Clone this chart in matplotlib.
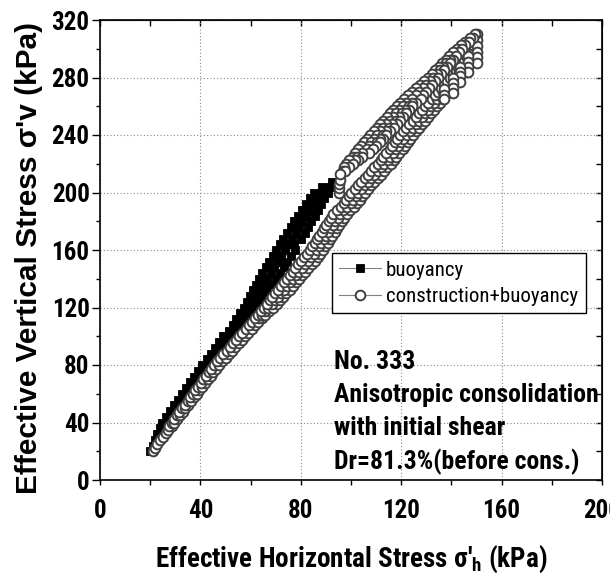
import matplotlib
matplotlib.use('Agg')
import matplotlib.pyplot as plt
from matplotlib.ticker import MultipleLocator

# ---------------- data ----------------
# buoyancy: rows of points across the black band (y, list of x)
buoy_row_y = [20, 24, 28, 32, 36, 40, 44, 48, 52, 56, 60, 64, 68, 72, 76, 80,
              84, 88, 92, 96, 100, 104, 108, 112, 116, 120, 124, 128, 132, 136,
              140, 144, 148, 152, 156, 160, 164, 168, 172, 176, 180, 184, 188,
              192, 196, 200, 204, 207]
buoy_row_x = [[20.0], [21.1], [21.8, 22.6], [22.9, 23.7], [23.8, 25.0],
              [24.8, 26.2], [26.4, 27.9], [28.0, 29.5], [29.6, 31.2],
              [31.2, 32.8], [32.8, 34.5], [34.4, 36.1], [36.0, 37.7],
              [37.6, 39.4], [39.2, 41.1], [40.8, 43.2], [42.5, 45.3],
              [44.1, 45.8, 47.4], [45.8, 47.6, 49.5], [47.5, 49.4, 51.6],
              [49.1, 51.3, 53.7], [51.3, 53.5, 55.7], [52.8, 55.0, 57.5],
              [54.3, 56.7, 59.2], [55.8, 58.3, 61.0], [57.3, 60.0, 62.7],
              [58.5, 61.3, 64.2], [59.7, 62.7, 65.7], [60.9, 64.0, 67.2],
              [62.1, 65.3, 68.7], [63.3, 66.5, 70.2], [64.7, 68.0, 71.7],
              [66.1, 69.4, 73.2], [67.5, 70.9, 74.7], [68.9, 72.3, 76.2],
              [70.3, 73.7, 77.7], [71.7, 74.8, 77.2], [73.1, 76.5, 80.2],
              [74.5, 77.9, 81.7], [75.9, 79.2, 82.9], [77.3, 80.6, 84.2],
              [78.9, 82.2, 85.5], [80.5, 83.5, 86.8], [82.1, 85.0, 88.1],
              [83.7, 86.5, 89.4], [85.3, 88.2, 90.7], [88.5, 91.5], [92.3]]

# construction+buoyancy: loading branch (lower band), rows every 2.5 kPa
cb_low_y = [20, 22.5, 25, 27.5, 30, 32.5, 35, 37.5, 40, 42.5, 45, 47.5, 50,
            52.5, 55, 57.5, 60, 62.5, 65, 67.5, 70, 72.5, 75, 77.5, 80, 82.5,
            85, 87.5, 90, 92.5, 95, 97.5, 100, 102.5, 105, 107.5, 110, 112.5,
            115, 117.5, 120, 122.5, 125, 127.5, 130, 132.5, 135, 137.5, 140,
            142.5, 145, 147.5, 150, 152.5, 155, 157.5, 160, 162.5, 165, 167.5,
            170, 172.5, 175, 177.5, 180, 182.5, 185, 187.5, 190, 192.5, 195,
            197.5, 200, 202.5, 205, 207.5, 210, 212.5, 215, 217.5, 220, 222.5,
            225, 227.5, 230, 232.5, 235, 237.5, 240, 242.5, 245, 247.5, 250,
            252.5, 255, 257.5, 260, 262.5, 265, 267.5, 270, 272.5, 275, 277.5,
            280, 282.5, 285, 287.5, 290, 292.5, 295, 297.5, 300, 302.5, 305,
            307.5, 310]
cb_low_x = [[21.0], [21.8], [22.6], [23.8], [25.1], [26.1], [27.1],
            [27.6, 28.5], [28.5, 29.5], [29.5, 30.6], [30.6, 31.7],
            [31.6, 32.9], [32.7, 34.0], [33.8, 35.1], [34.9, 36.2],
            [35.9, 37.4], [37.0, 38.5], [38.0, 39.6], [39.1, 40.7],
            [40.1, 41.9], [41.2, 43.0], [42.3, 44.1], [43.4, 45.2],
            [44.4, 46.4], [45.5, 47.5], [46.7, 48.8], [48.0, 50.0],
            [49.2, 51.3], [50.5, 52.6], [51.7, 53.9], [53.0, 55.2],
            [54.2, 56.5], [55.5, 57.8], [56.7, 59.1], [58.0, 60.4],
            [59.3, 61.7], [60.6, 63.0], [61.7, 63.2, 64.5], [62.9, 64.4, 65.9],
            [64.1, 65.8, 67.4], [65.3, 67.1, 68.9], [66.4, 68.5, 70.4],
            [67.6, 69.8, 71.9], [68.7, 71.0, 73.1], [69.9, 72.1, 74.3],
            [71.0, 73.3, 75.6], [72.2, 74.5, 76.8], [73.3, 75.7, 78.0],
            [74.5, 76.9, 79.3], [75.6, 78.0, 80.5], [76.7, 79.2, 81.8],
            [77.8, 80.4, 83.0], [79.0, 81.6, 84.3], [80.1, 82.8, 85.5],
            [81.3, 84.0, 86.8], [82.4, 85.1, 87.8], [83.6, 86.3, 88.9],
            [84.5, 87.2, 89.8], [85.5, 88.2, 90.8], [86.4, 89.1, 91.7],
            [87.4, 90.0, 92.6], [88.3, 91.0, 93.5], [89.2, 91.9, 94.5],
            [90.1, 92.8, 95.4], [91.1, 93.8, 96.4], [92.0, 94.7, 97.3],
            [93.0, 95.6, 98.3], [94.4, 97.0, 99.7], [95.9, 98.5, 101.1],
            [97.3, 99.9, 102.5], [98.2, 100.9, 103.5], [99.1, 101.8, 104.4],
            [100.1, 102.8, 105.4], [101.4, 104.1, 106.7], [102.7, 105.4, 108.0],
            [104.0, 106.7, 109.3], [105.4, 108.0, 110.6], [106.7, 109.3, 111.9],
            [108.0, 110.6, 113.2], [109.3, 111.9, 114.5], [110.6, 113.3, 115.8],
            [111.9, 114.6, 117.1], [112.7, 115.4, 117.9], [114.0, 116.7, 119.2],
            [115.4, 118.0, 120.6], [116.2, 118.8, 121.4], [117.5, 120.1, 122.7],
            [118.3, 120.9, 123.5], [119.6, 122.3, 124.8], [120.8, 123.5, 126.0],
            [122.1, 124.7, 127.1], [123.3, 125.9, 128.3], [124.6, 127.1, 129.5],
            [125.8, 128.3, 130.6], [127.1, 129.5, 131.8], [128.3, 130.7, 132.9],
            [129.6, 132.0, 134.1], [130.8, 133.2, 135.3], [132.1, 134.4, 136.5],
            [133.3, 135.4, 137.4], [134.6, 136.5, 138.4], [135.8, 137.7, 139.6],
            [137.1, 139.0, 140.8], [138.3, 140.2, 141.9], [139.6, 141.5, 143.0],
            [140.6, 142.3, 143.9], [141.7, 143.2, 144.7], [142.8, 144.1, 145.4],
            [143.9, 146.1], [144.9, 146.8], [146.0, 147.5], [147.0, 148.2],
            [148.0, 149.0], [148.7, 149.4], [149.5], [149.8], [150.0]]

# small unloading drops at the top of the loading branch
cb_drop_x = [150.2, 150.2, 150.2, 150.2, 150.2, 146.8, 146.8, 146.8, 146.8,
             143.6, 143.6, 143.6, 143.6, 140.6, 140.6, 140.6, 140.6, 137.2,
             137.2, 137.2]
cb_drop_y = [306, 302, 298, 294, 290, 295, 291, 287, 284, 287, 284, 281, 277,
             280, 276, 273, 269, 272, 268, 265]

# return branch (upper band), from the top downwards
cb_up_y = [310, 307.5, 305, 302.5, 300, 297.5, 295, 292.5, 290, 287.5, 285,
           282.5, 280, 277.5, 275, 272.5, 270, 267.5, 265, 262.5, 260, 257.5,
           255, 252.5, 250, 247.5, 245, 242.5, 240, 237.5, 235, 232.5, 230,
           227.5, 225, 222.5, 220, 217.5, 215]
cb_up_x = [[149.5], [147.6, 148.8], [145.6, 147.0], [143.9, 145.6],
           [142.2, 144.3], [140.6, 143.0], [139.1, 141.7],
           [137.7, 139.3, 140.6], [136.4, 138.0, 139.6], [135.0, 136.7, 138.4],
           [133.6, 135.4, 137.2], [132.1, 134.1, 136.0], [130.7, 132.8, 134.8],
           [129.1, 131.3, 133.5], [127.6, 129.8, 132.2], [126.0, 128.5, 131.1],
           [124.4, 127.2, 130.0], [122.8, 125.7, 128.8], [121.3, 124.3, 127.7],
           [119.7, 122.0, 124.3, 125.7], [118.2, 120.6, 123.0, 124.5],
           [116.9, 119.3, 121.7, 123.2], [115.6, 118.0, 120.4, 122.0],
           [114.2, 116.7, 119.1, 120.7], [112.9, 115.4, 117.8, 119.5],
           [111.6, 114.1, 116.5, 118.2], [110.3, 112.8, 115.3, 117.0],
           [109.0, 111.5, 114.0, 115.5], [107.7, 110.2, 112.7, 114.0],
           [106.5, 109.0, 111.5, 112.7], [105.3, 107.8, 110.3, 111.4],
           [104.1, 107.0, 110.1], [102.9, 106.2, 108.8], [101.7, 104.3, 107.0],
           [100.6, 102.5, 104.4], [99.4, 101.6, 102.6], [98.2, 100.8],
           [97.4, 99.3], [96.7, 97.8]]
cb_end_x = [95.2, 95.3, 95.4, 95.5, 95.6]
cb_end_y = [200, 203, 206, 209, 213]

x_ticks = [0, 40, 80, 120, 160, 200]
y_ticks = [0, 40, 80, 120, 160, 200, 240, 280, 320]
labels = ['buoyancy', 'construction+buoyancy']
note_lines = ['No. 333', 'Anisotropic consolidation', 'with initial shear',
              'Dr=81.3%(before cons.)']


def flatten(rows_y, rows_x):
    xs, ys = [], []
    for i, (y, row) in enumerate(zip(rows_y, rows_x)):
        seq = row if i % 2 == 0 else row[::-1]
        for x in seq:
            xs.append(x)
            ys.append(y)
    return xs, ys


bx, by = flatten(buoy_row_y, buoy_row_x)
lx, ly = flatten(cb_low_y, cb_low_x)
ux, uy = flatten(cb_up_y, cb_up_x)
gx = lx + cb_drop_x + ux + cb_end_x
gy = ly + cb_drop_y + uy + cb_end_y

# ---------------- figure ----------------
NARROW = ['Roboto Condensed', 'PT Sans Narrow', 'Barlow Condensed', 'Liberation Sans', 'DejaVu Sans']
WIDE = ['Liberation Sans', 'DejaVu Sans']
plt.rcParams['font.family'] = NARROW
plt.rcParams['mathtext.default'] = 'regular'

fig = plt.figure(figsize=(6.1, 5.75), dpi=100)
ax = fig.add_axes([100 / 610, 95 / 575, 502 / 610, 460 / 575])
ax.set_xlim(0, 200)
ax.set_ylim(0, 320)

ax.set_xticks(x_ticks)
ax.set_yticks(y_ticks)
ax.xaxis.set_minor_locator(MultipleLocator(20))
ax.yaxis.set_minor_locator(MultipleLocator(20))
ax.grid(True, which='major', linestyle=(0, (1, 2)), color='#8a8a8a', linewidth=0.8)
ax.set_axisbelow(True)

for s in ax.spines.values():
    s.set_linewidth(1.2)

ax.plot(bx, by, '-', color='#808080', lw=0.8, marker='s', ms=6.4,
        mfc='black', mec='black', mew=0.6, label=labels[0], zorder=3)
ax.plot(gx, gy, '-', color='#808080', lw=0.8, marker='o', ms=7.0,
        mfc='white', mec='#404040', mew=1.4, label=labels[1], zorder=4)

ax.tick_params(axis='x', which='both', direction='out', top=False,
               length=3.5, width=1.0, pad=10)
ax.tick_params(axis='y', which='major', direction='out', right=False,
               length=6, width=1.0, pad=1.5)
ax.tick_params(axis='y', which='minor', direction='out', right=False,
               length=3, width=1.0)
for lab in ax.get_xticklabels() + ax.get_yticklabels():
    lab.set_fontsize(18)
    lab.set_fontweight('bold')
    lab.set_family(NARROW)

top = ax.secondary_xaxis('top')
top.set_xticks(x_ticks)
top.xaxis.set_minor_locator(MultipleLocator(20))
top.tick_params(which='both', direction='in', length=4, width=1.0, labeltop=False)
right = ax.secondary_yaxis('right')
right.set_yticks(y_ticks)
right.yaxis.set_minor_locator(MultipleLocator(20))
right.tick_params(which='both', direction='in', length=4, width=1.0, labelright=False)

leg = ax.legend(loc='upper left', bbox_to_anchor=(0.462, 0.493), borderaxespad=0,
                frameon=True, fancybox=False, edgecolor='black', framealpha=1,
                borderpad=0.35, handlelength=2.0, handletextpad=0.25,
                labelspacing=0.35, numpoints=1,
                prop={'family': NARROW, 'size': 15})
leg.get_frame().set_linewidth(1.0)
leg.set_zorder(6)

ys_note = [0.2565, 0.185, 0.113, 0.039]
for t, yy in zip(note_lines, ys_note):
    ax.text(0.466, yy, t, transform=ax.transAxes, ha='left', va='center',
            fontsize=18.5, fontweight='bold', family=NARROW, zorder=7)

fig.text(0.5754, 8 / 575, "Effective Horizontal Stress σ'$_\\mathregular{h}$ (kPa)",
         ha='center', va='baseline', fontsize=19.5, fontweight='bold', family=NARROW)
fig.text(37 / 610, 0.552, "Effective Vertical Stress σ'v (kPa)", rotation=90,
         rotation_mode='anchor', ha='center', va='baseline', fontsize=21.5,
         fontweight='bold', family=WIDE)

fig.savefig('out.png', dpi=100)
